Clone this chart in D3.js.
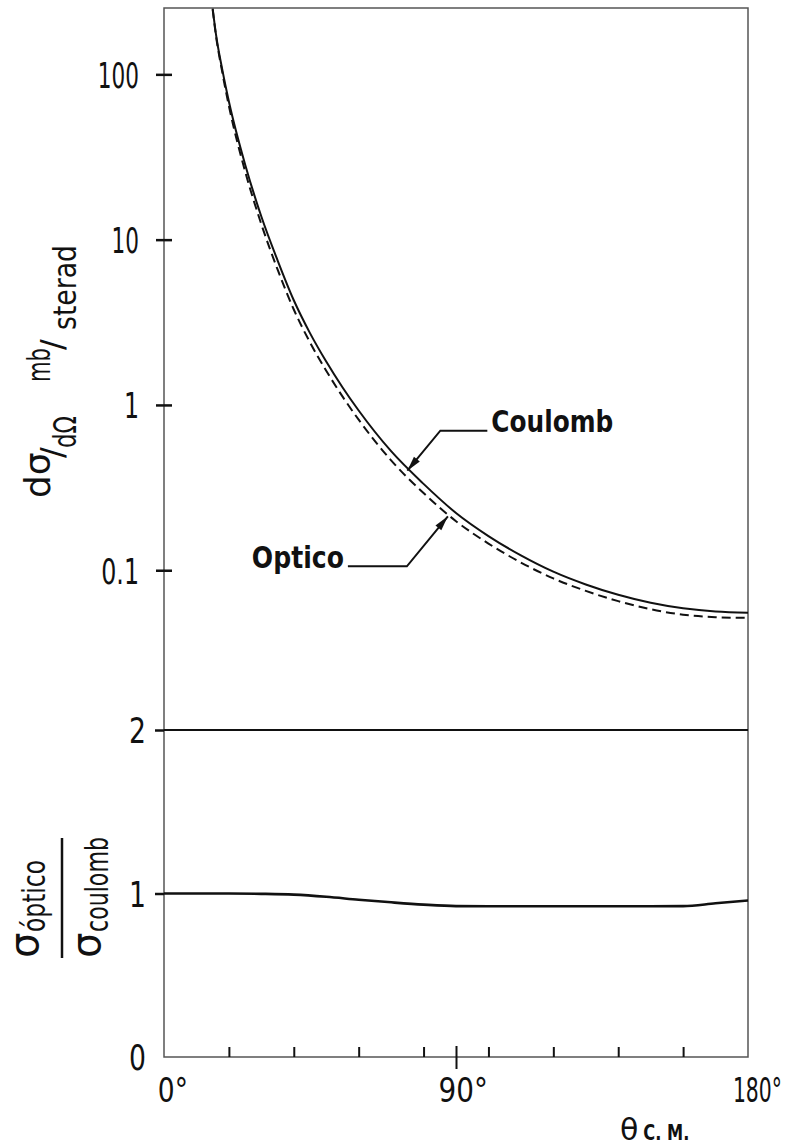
<!DOCTYPE html>
<html>
<head>
<meta charset="utf-8">
<script src="https://cdn.jsdelivr.net/npm/d3@7"></script>
<style>
  html, body { margin: 0; padding: 0; background: #fff; }
  svg { display: block; }
  .lbl { font-family: "DejaVu Sans", sans-serif; fill: #111; }
</style>
</head>
<body>
<svg id="chart" width="790" height="1146"></svg>
<script>
// Scattering angle in the centre-of-mass frame (degrees)
const angles = [15, 16, 18, 20, 25, 30, 35, 40, 45, 50, 55, 60, 70, 80, 90, 100, 110, 120, 130, 140, 150, 160, 170, 180];
// Differential cross section, mb/sterad
const coulomb = [250, 176, 106, 68.5, 28.5, 13.8, 7.5, 4.3, 2.72, 1.83, 1.28, 0.925, 0.525, 0.333, 0.222, 0.161, 0.123, 0.098, 0.082, 0.071, 0.0635, 0.0588, 0.0562, 0.0553];
const optico  = [247, 172.5, 102, 64.4, 25.9, 12.4, 6.6, 3.78, 2.39, 1.61, 1.126, 0.814, 0.462, 0.293, 0.198, 0.145, 0.1113, 0.0892, 0.075, 0.065, 0.0581, 0.0538, 0.052, 0.0515];

// Ratio sigma_optico / sigma_coulomb
const ratioAngles = [0, 10, 20, 30, 40, 50, 60, 70, 80, 90, 100, 110, 120, 130, 140, 150, 160, 170, 180];
const ratio = [1.0, 1.0, 1.0, 0.998, 0.993, 0.98, 0.962, 0.946, 0.932, 0.923, 0.922, 0.922, 0.922, 0.922, 0.922, 0.922, 0.923, 0.94, 0.957];

// Axis ticks
const xTicks = [20, 40, 60, 80, 90, 100, 120, 140, 160];
const xLabels = [0, 90, 180];
const logTicks = [0.1, 1, 10, 100];
const logLabels = ["0.1", "1", "10", "100"];
const ratioTicks = [0, 1, 2];
const ratioLabels = ["0", "1", "2"];

const svg = d3.select("#chart");
const pLeft = 164, pRight = 748, pTop = 8, pMid = 730, pBottom = 1057;

const x = d3.scaleLinear().domain([0, 180]).range([pLeft, pRight]);
const yTop = d3.scaleLog().domain([0.0108, 252]).range([pMid, pTop]);
const yLow = d3.scaleLinear().domain([0, 2]).range([pBottom, pMid]);

const ink = "#111";
const frame = "#555";

// Narrow lettering: squeeze a text run to a fraction of its natural advance
function condense(sel, k) {
  sel.each(function () {
    const w = this.getComputedTextLength();
    const f = typeof k === "function" ? k(d3.select(this).datum()) : k;
    d3.select(this).attr("textLength", w * f).attr("lengthAdjust", "spacingAndGlyphs");
  });
}

// Clip for the upper panel curves
svg.append("defs").append("clipPath").attr("id", "clipTop")
  .append("rect").attr("x", pLeft).attr("y", pTop).attr("width", pRight - pLeft).attr("height", pMid - pTop);

// Frame
svg.append("rect").attr("x", pLeft).attr("y", pTop).attr("width", pRight - pLeft).attr("height", pBottom - pTop)
  .attr("fill", "none").attr("stroke", frame).attr("stroke-width", 1.5);

// Upper panel log axis: ticks crossing the frame line
const gTop = svg.append("g").attr("transform", `translate(${pLeft},0)`)
  .call(d3.axisLeft(yTop).tickValues(logTicks).tickSizeInner(8).tickSizeOuter(0).tickPadding(17)
    .tickFormat((d, i) => logLabels[i]));
gTop.select(".domain").remove();
gTop.selectAll(".tick line").attr("stroke", ink).attr("stroke-width", 2.5);
gTop.selectAll(".tick text").attr("class", "lbl").attr("font-size", 36).attr("dy", "0.36em")
  .call(condense, d => (d >= 10 ? 0.6 : 0.66));
svg.append("g").attr("transform", `translate(${pLeft},0)`)
  .call(d3.axisRight(yTop).tickValues(logTicks).tickSizeInner(8).tickSizeOuter(0).tickFormat(""))
  .call(g => g.select(".domain").remove())
  .selectAll(".tick line").attr("stroke", ink).attr("stroke-width", 2.5);

// Lower panel linear axis
const gLow = svg.append("g").attr("transform", `translate(${pLeft},0)`)
  .call(d3.axisLeft(yLow).tickValues(ratioTicks).tickSizeInner(9).tickSizeOuter(0).tickPadding(9)
    .tickFormat((d, i) => ratioLabels[i]));
gLow.select(".domain").remove();
gLow.selectAll(".tick line").attr("stroke", ink).attr("stroke-width", 2.5)
  .filter(d => d === 0).remove();
gLow.selectAll(".tick text").attr("class", "lbl").attr("font-size", 36).attr("dy", "0.36em")
  .call(condense, 0.74);

// Panel separator at ratio = 2
svg.append("line").attr("x1", pLeft).attr("x2", pRight).attr("y1", yLow(2)).attr("y2", yLow(2))
  .attr("stroke", ink).attr("stroke-width", 2);

// Bottom angle axis, ticks pointing inward
const gX = svg.append("g").attr("transform", `translate(0,${pBottom})`)
  .call(d3.axisTop(x).tickValues(xTicks).tickSizeInner(10).tickSizeOuter(0).tickFormat(""));
gX.select(".domain").remove();
gX.selectAll(".tick line").attr("stroke", ink).attr("stroke-width", 2);
// 90 degree tick runs through the axis
gX.selectAll(".tick").filter(d => d === 90).select("line").attr("y1", 12).attr("y2", -11);

// Angle labels, right-aligned and narrowed by a horizontal scale
const xLabelEnd = { 0: 24, 90: 32, 180: 34 };
const xLabelScale = { 0: 0.78, 90: 0.82, 180: 0.6 };
svg.append("g").selectAll("text").data(xLabels).join("text")
  .attr("class", "lbl").attr("font-size", 34).attr("text-anchor", "end")
  .attr("transform", d => `translate(${x(d) + xLabelEnd[d]},1102) scale(${xLabelScale[d]},1)`)
  .text(d => d + "°");

// Curves
const line = (ys) => d3.line().x((d, i) => x(angles[i])).y(d => ys(d)).curve(d3.curveMonotoneX);
const gc = svg.append("g").attr("clip-path", "url(#clipTop)");
gc.append("path").datum(optico).attr("d", line(yTop)).attr("fill", "none")
  .attr("stroke", ink).attr("stroke-width", 2).attr("stroke-dasharray", "9,5");
gc.append("path").datum(coulomb).attr("d", line(yTop)).attr("fill", "none")
  .attr("stroke", ink).attr("stroke-width", 2);

svg.append("path").datum(ratio)
  .attr("d", d3.line().x((d, i) => x(ratioAngles[i])).y(d => yLow(d)).curve(d3.curveMonotoneX))
  .attr("fill", "none").attr("stroke", ink).attr("stroke-width", 2.6);

// Leader with an arrowhead at its last point
function leader(pts) {
  svg.append("polyline").attr("points", pts.map(p => p.join(",")).join(" "))
    .attr("fill", "none").attr("stroke", ink).attr("stroke-width", 2);
  const [a, b] = [pts[pts.length - 2], pts[pts.length - 1]];
  const L = Math.hypot(b[0] - a[0], b[1] - a[1]);
  const ux = (b[0] - a[0]) / L, uy = (b[1] - a[1]) / L;
  const len = 15, hw = 3.8;
  const bx = b[0] - ux * len, by = b[1] - uy * len;
  svg.append("path")
    .attr("d", `M${b[0]},${b[1]}L${bx - uy * hw},${by + ux * hw}L${bx + uy * hw},${by - ux * hw}Z`)
    .attr("fill", ink);
}

const cTip = [x(75), yTop(0.40)];
leader([[cTip[0] + 80, cTip[1] - 40], [cTip[0] + 33, cTip[1] - 40], cTip]);
svg.append("text").attr("class", "lbl").attr("font-size", 31).attr("font-weight", "bold")
  .attr("x", cTip[0] + 84).attr("y", cTip[1] - 39).text("Coulomb")
  .call(condense, 0.8);

const oTip = [x(87.5), yTop(0.212)];
leader([[oTip[0] - 100, oTip[1] + 50], [oTip[0] - 41, oTip[1] + 50], oTip]);
svg.append("text").attr("class", "lbl").attr("font-size", 31).attr("font-weight", "bold")
  .attr("text-anchor", "end").attr("x", oTip[0] - 104).attr("y", oTip[1] + 52).text("Optico")
  .call(condense, 0.81);

// Upper y label: dσ/dΩ   mb/sterad
const yl = svg.append("text").attr("class", "lbl").attr("transform", "translate(50,498) rotate(-90)");
yl.append("tspan").attr("x", 0).attr("y", 0).attr("font-size", 36).text("dσ");
yl.append("tspan").attr("x", 40).attr("y", 13).attr("font-size", 32).text("/");
yl.append("tspan").attr("x", 50).attr("y", 26).attr("font-size", 32).text("dΩ")
  .attr("textLength", 32).attr("lengthAdjust", "spacingAndGlyphs");
yl.append("tspan").attr("x", 116).attr("y", 0).attr("font-size", 32).text("mb")
  .attr("textLength", 34).attr("lengthAdjust", "spacingAndGlyphs");
yl.append("tspan").attr("x", 148).attr("y", 13).attr("font-size", 32).text("/");
yl.append("tspan").attr("x", 168).attr("y", 26).attr("font-size", 32).text("sterad")
  .attr("textLength", 85).attr("lengthAdjust", "spacingAndGlyphs");

// Lower y label: stacked ratio σ óptico over σ coulomb
const num = svg.append("text").attr("class", "lbl").attr("transform", "translate(38,958) rotate(-90)");
num.append("tspan").attr("x", 0).attr("y", 0).attr("font-size", 40).text("σ");
num.append("tspan").attr("x", 26).attr("y", 7).attr("font-size", 32).text("óptico")
  .attr("textLength", 72).attr("lengthAdjust", "spacingAndGlyphs");
svg.append("line").attr("x1", 62).attr("x2", 62).attr("y1", 838).attr("y2", 958)
  .attr("stroke", ink).attr("stroke-width", 2.5);
const den = svg.append("text").attr("class", "lbl").attr("transform", "translate(100,958) rotate(-90)");
den.append("tspan").attr("x", 0).attr("y", 0).attr("font-size", 40).text("σ");
den.append("tspan").attr("x", 26).attr("y", 8).attr("font-size", 32).text("coulomb")
  .attr("textLength", 95).attr("lengthAdjust", "spacingAndGlyphs");

// Bottom axis title: θ c.m.
const xt = svg.append("text").attr("class", "lbl").attr("x", 620).attr("y", 1140);
xt.append("tspan").attr("font-size", 30).text("θ");
xt.append("tspan").attr("font-size", 21).attr("font-weight", "bold").attr("dx", 5).text("C. M.")
  .attr("textLength", 46).attr("lengthAdjust", "spacingAndGlyphs");
</script>
</body>
</html>
